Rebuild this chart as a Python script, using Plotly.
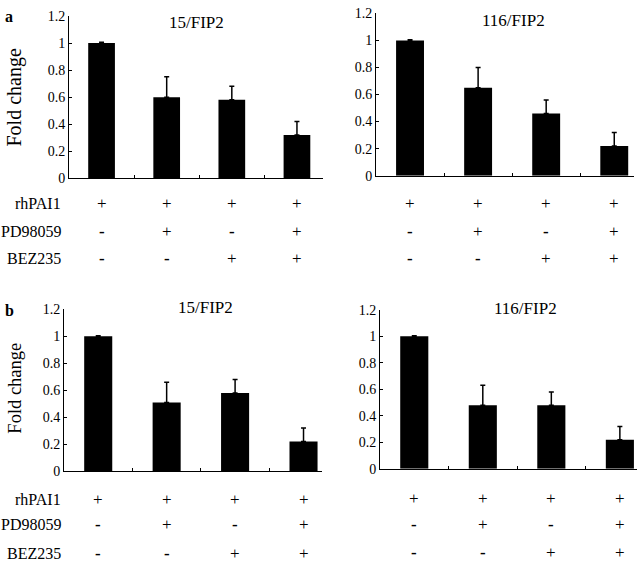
import plotly.graph_objects as go

W, H = 638, 568

# ---- data ----
conditions = ["C1", "C2", "C3", "C4"]
a15_values = [1.0, 0.60, 0.58, 0.32]
a15_errors = [0.005, 0.15, 0.10, 0.10]
a116_values = [1.0, 0.65, 0.46, 0.22]
a116_errors = [0.005, 0.15, 0.10, 0.10]
b15_values = [1.0, 0.51, 0.58, 0.22]
b15_errors = [0.005, 0.15, 0.10, 0.10]
b116_values = [1.0, 0.48, 0.48, 0.22]
b116_errors = [0.005, 0.15, 0.10, 0.10]
row_names = ["rhPAI1", "PD98059", "BEZ235"]
rhPAI1 = ["+", "+", "+", "+"]
PD98059 = ["-", "+", "-", "+"]
BEZ235 = ["-", "-", "+", "+"]
y_ticks = [0, 0.2, 0.4, 0.6, 0.8, 1.0, 1.2]
y_ticktext = ["0", "0.2", "0.4", "0.6", "0.8", "1", "1.2"]

FONT = "Liberation Serif"

panels = [
    dict(vals=a15_values, errs=a15_errors, x0=69, x1=323, yb=176, yt=9.2, xr=3.4,
         title="15/FIP2", tx=196, ty=16, rows=[202, 231, 258]),
    dict(vals=a116_values, errs=a116_errors, x0=376, x1=634, yb=173.3, yt=6.5, xr=3.29,
         title="116/FIP2", tx=513, ty=14, rows=[202, 231, 258]),
    dict(vals=b15_values, errs=b15_errors, x0=64, x1=322, yb=476.7, yt=310.6, xr=3.27,
         title="15/FIP2", tx=205, ty=309, rows=[505.5, 532, 561]),
    dict(vals=b116_values, errs=b116_errors, x0=380, x1=637, yb=474.3, yt=311.1, xr=3.25,
         title="116/FIP2", tx=525, ty=310, rows=[505, 532, 560]),
]

fig = go.Figure()
annotations = []
layout_axes = {}

def px_x(p):
    return p / W

def px_y(p):
    return 1 - p / H

for i, p in enumerate(panels):
    n = i + 1
    xa = "x" if n == 1 else f"x{n}"
    ya = "y" if n == 1 else f"y{n}"
    xidx = list(range(len(conditions)))
    fig.add_trace(go.Bar(
        x=xidx, y=p["vals"], width=0.41,
        marker=dict(color="black", line=dict(width=0)),
        error_y=dict(type="data", symmetric=False, array=p["errs"],
                     arrayminus=[0] * len(p["errs"]),
                     color="black", thickness=1.5, width=2.5),
        xaxis=xa, yaxis=ya, showlegend=False, hoverinfo="y",
    ))
    xkey = "xaxis" if n == 1 else f"xaxis{n}"
    ykey = "yaxis" if n == 1 else f"yaxis{n}"
    layout_axes[xkey] = dict(
        domain=[px_x(p["x0"]), px_x(p["x1"])], anchor=ya,
        range=[-0.5, p["xr"]], tickmode="array", tickvals=[0.5, 1.5, 2.5],
        showticklabels=False, ticks="inside", ticklen=3, tickcolor="black",
        showline=True, linecolor="black", linewidth=1, showgrid=False,
        zeroline=False, fixedrange=True,
    )
    layout_axes[ykey] = dict(
        domain=[px_y(p["yb"]), px_y(p["yt"])], anchor=xa,
        range=[0, 1.2], tickmode="array", tickvals=y_ticks, ticktext=y_ticktext,
        ticks="inside", ticklen=3, tickcolor="black",
        tickfont=dict(family=FONT, size=14, color="black"),
        showline=True, linecolor="black", linewidth=1, showgrid=False,
        zeroline=False, fixedrange=True,
    )
    annotations.append(dict(
        text=p["title"], x=px_x(p["tx"]), y=px_y(p["ty"]), xref="paper", yref="paper",
        showarrow=False, xanchor="center", yanchor="middle",
        font=dict(family=FONT, size=17, color="black"),
    ))
    for rvals, ry in zip([rhPAI1, PD98059, BEZ235], p["rows"]):
        for xi, s in zip(xidx, rvals):
            annotations.append(dict(
                text=s if s == "+" else "<b>-</b>", x=xi, y=px_y(ry), xref=xa, yref="paper",
                showarrow=False, xanchor="center", yanchor="middle",
                font=dict(family=FONT, size=17, color="black"),
            ))
    if n in (1, 3):
        for name, ry in zip(row_names, p["rows"]):
            annotations.append(dict(
                text=name, x=px_x(63), y=px_y(ry), xref="paper", yref="paper",
                showarrow=False, xanchor="right", yanchor="middle",
                font=dict(family=FONT, size=16, color="black"),
            ))

annotations.append(dict(text="<b>a</b>", x=px_x(3), y=px_y(10), xref="paper", yref="paper",
                        showarrow=False, xanchor="left", yanchor="middle",
                        font=dict(family=FONT, size=16, color="black")))
annotations.append(dict(text="<b>b</b>", x=px_x(3), y=px_y(312), xref="paper", yref="paper",
                        showarrow=False, xanchor="left", yanchor="middle",
                        font=dict(family=FONT, size=16, color="black")))
annotations.append(dict(text="Fold change", x=px_x(15), y=px_y(93), xref="paper", yref="paper",
                        showarrow=False, xanchor="center", yanchor="middle", textangle=-90,
                        font=dict(family=FONT, size=20, color="black")))
annotations.append(dict(text="Fold change", x=px_x(15), y=px_y(392), xref="paper", yref="paper",
                        showarrow=False, xanchor="center", yanchor="middle", textangle=-90,
                        font=dict(family=FONT, size=18.5, color="black")))

fig.update_layout(
    width=W, height=H, margin=dict(l=0, r=0, t=0, b=0),
    paper_bgcolor="white", plot_bgcolor="white",
    annotations=annotations,
    **layout_axes,
)

fig.write_html("out.html", config={"displayModeBar": False},
               post_script="document.body.style.margin='0';document.body.style.overflow='hidden';")
